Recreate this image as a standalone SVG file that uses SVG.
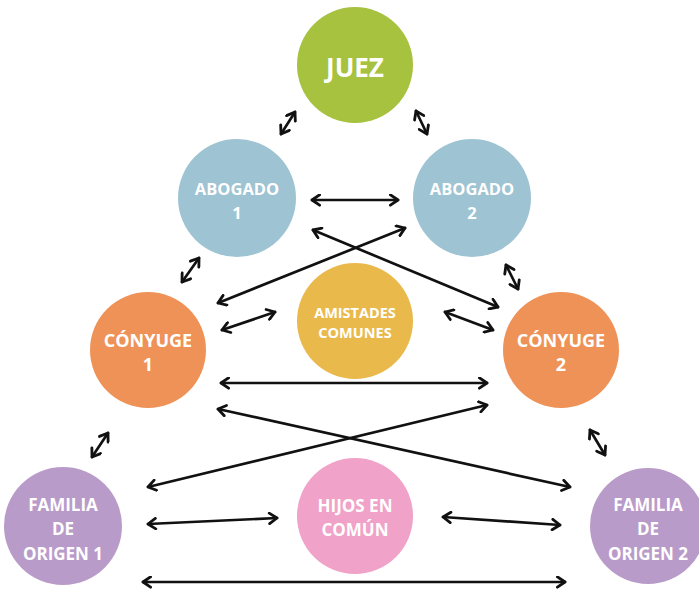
<svg xmlns="http://www.w3.org/2000/svg" width="699" height="590" viewBox="0 0 699 590">
<defs>
<marker id="ah" viewBox="0 0 12 12" refX="10" refY="6" markerWidth="13" markerHeight="13" markerUnits="userSpaceOnUse" orient="auto-start-reverse">
<path d="M3,1.2 L10,6 L3,10.8" fill="none" stroke="#111" stroke-width="2.6" stroke-linecap="round" stroke-linejoin="round"/>
</marker>
</defs>
<style>
.n text{font-family:"Open Sans","Liberation Sans",sans-serif;font-weight:bold;fill:#fff;text-anchor:middle;dominant-baseline:central}
.c line{stroke:#111;stroke-width:2.7;stroke-linecap:round;marker-start:url(#ah);marker-end:url(#ah)}
</style>
<rect width="699" height="590" fill="#fff"/>
<g id="connectors" class="c">
<line x1="281" y1="134" x2="295" y2="112"/>
<line x1="416" y1="111" x2="427" y2="134"/>
<line x1="312" y1="200" x2="398" y2="200"/>
<line x1="199" y1="258" x2="182" y2="282"/>
<line x1="506" y1="265" x2="518" y2="289"/>
<line x1="218" y1="303" x2="405" y2="228"/>
<line x1="313" y1="230" x2="498" y2="307"/>
<line x1="222" y1="330" x2="275" y2="312"/>
<line x1="445" y1="312" x2="493" y2="330"/>
<line x1="221" y1="383" x2="487" y2="383"/>
<line x1="218" y1="409" x2="570" y2="487"/>
<line x1="148" y1="487" x2="487" y2="405"/>
<line x1="92" y1="457" x2="108" y2="433"/>
<line x1="590" y1="430" x2="605" y2="455"/>
<line x1="148" y1="524" x2="277" y2="518"/>
<line x1="443" y1="517" x2="560" y2="525"/>
<line x1="143" y1="582" x2="565" y2="582"/>
</g>
<g id="juez" class="n"><circle cx="355" cy="65" r="58" fill="#a6c23f"/><text x="355" y="67" font-size="26">JUEZ</text></g>
<g id="abogado1" class="n"><circle cx="237" cy="198" r="59" fill="#9ec3d2"/><text x="237" y="188" font-size="16.5">ABOGADO</text><text x="237" y="212" font-size="16.5">1</text></g>
<g id="abogado2" class="n"><circle cx="472" cy="198" r="59" fill="#9ec3d2"/><text x="472" y="188" font-size="16.5">ABOGADO</text><text x="472" y="212" font-size="16.5">2</text></g>
<g id="amistades" class="n"><circle cx="355" cy="321" r="58" fill="#eab94b"/><text x="355" y="312" font-size="14.5">AMISTADES</text><text x="355" y="332" font-size="14.5">COMUNES</text></g>
<g id="conyuge1" class="n"><circle cx="148" cy="350" r="58" fill="#ee9257"/><text x="148" y="340" font-size="18">CÓNYUGE</text><text x="148" y="364" font-size="18">1</text></g>
<g id="conyuge2" class="n"><circle cx="561" cy="350" r="58" fill="#ee9257"/><text x="561" y="340" font-size="18">CÓNYUGE</text><text x="561" y="364" font-size="18">2</text></g>
<g id="familia1" class="n"><circle cx="63" cy="526" r="59" fill="#b99bc9"/><text x="63" y="504" font-size="17">FAMILIA</text><text x="63" y="528" font-size="17">DE</text><text x="63" y="553" font-size="17">ORIGEN 1</text></g>
<g id="hijos" class="n"><circle cx="355" cy="516" r="58" fill="#f0a2c8"/><text x="355" y="505" font-size="17">HIJOS EN</text><text x="355" y="529" font-size="17">COMÚN</text></g>
<g id="familia2" class="n"><circle cx="648" cy="526" r="58" fill="#b99bc9"/><text x="648" y="504" font-size="17">FAMILIA</text><text x="648" y="528" font-size="17">DE</text><text x="648" y="553" font-size="17">ORIGEN 2</text></g>
</svg>
